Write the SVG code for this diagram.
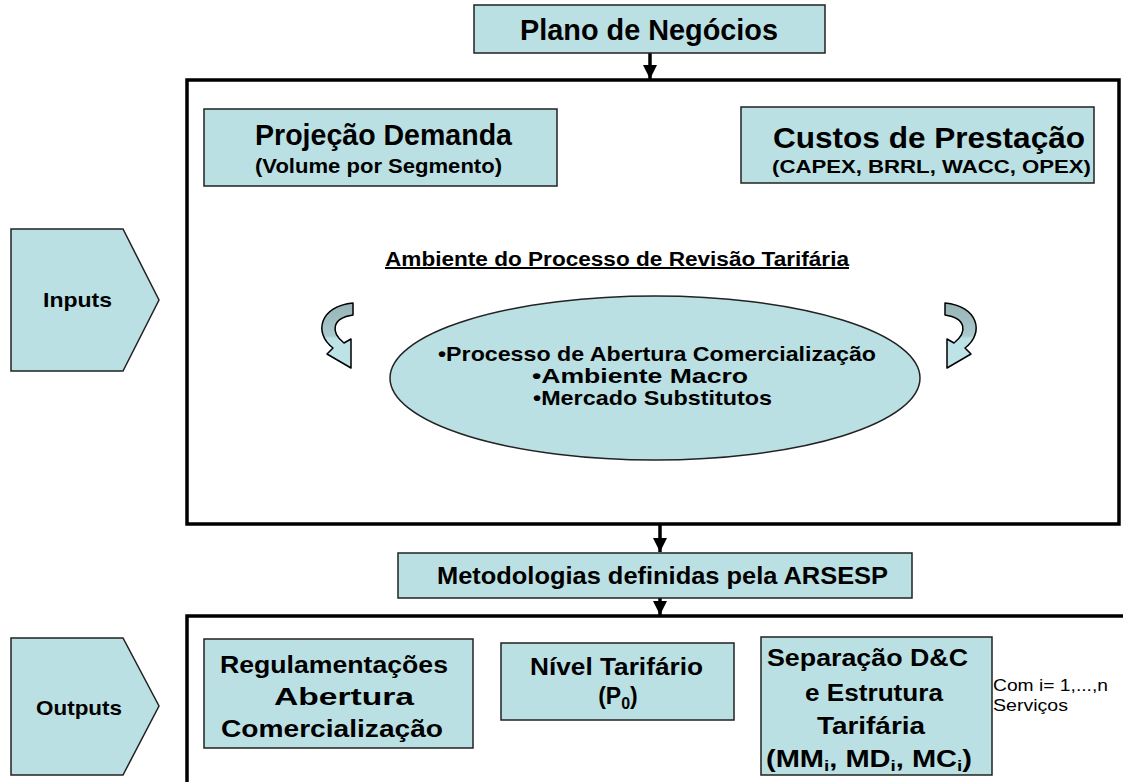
<svg xmlns="http://www.w3.org/2000/svg" width="1123" height="782" viewBox="0 0 1123 782">
<style>
.box{fill:#BBE0E3;stroke:#222;stroke-width:1.5}
.frame{fill:none;stroke:#000;stroke-width:3.5}
.t{font-family:"Liberation Sans",Arial,sans-serif;font-weight:bold;fill:#000;text-anchor:middle}
.r{font-family:"Liberation Sans",Arial,sans-serif;fill:#000}
.conn{stroke:#000;stroke-width:3.5;fill:none}
</style>
<defs>
<marker id="ah" markerWidth="4" markerHeight="4" refX="4" refY="2" orient="auto" markerUnits="strokeWidth">
<path d="M0,0 L4,2 L0,4 Z" fill="#000"/>
</marker>
<linearGradient id="cg" x1="0" y1="0" x2="0" y2="1">
<stop offset="0" stop-color="#97B3B6"/>
<stop offset="0.5" stop-color="#A9C9CC"/>
<stop offset="0.55" stop-color="#BEE3E6"/>
<stop offset="1" stop-color="#BEE3E6"/>
</linearGradient>
<path id="curv" d="M353,303 C320,306 313,333 333,348 L327,354 L351,368 L351,339 L344,343 C330,332 332,318 353,315 Z" fill="url(#cg)" stroke="#000" stroke-width="1.5" stroke-linejoin="round"/>
</defs>

<g id="frames">
<rect class="frame" x="187" y="80" width="932" height="444"/>
<path class="frame" d="M187,790 V616 H1130"/>
</g>

<g id="connectors">
<line class="conn" x1="650" y1="53" x2="650" y2="79" marker-end="url(#ah)"/>
<line class="conn" x1="660" y1="524" x2="660" y2="552" marker-end="url(#ah)"/>
<line class="conn" x1="660" y1="598" x2="660" y2="615" marker-end="url(#ah)"/>
</g>

<g id="plano">
<rect class="box" x="474" y="5" width="351" height="48"/>
<text class="t" x="649" y="40" font-size="29" textLength="258" lengthAdjust="spacingAndGlyphs">Plano de Negócios</text>
</g>

<g id="projecao">
<rect class="box" x="204" y="109" width="353" height="77"/>
<text class="t" x="383.5" y="145" font-size="29" textLength="257" lengthAdjust="spacingAndGlyphs">Projeção Demanda</text>
<text class="t" x="378.5" y="173" font-size="21" textLength="247" lengthAdjust="spacingAndGlyphs">(Volume por Segmento)</text>
</g>

<g id="custos">
<rect class="box" x="741" y="107" width="353" height="76"/>
<text class="t" x="929" y="148" font-size="29" textLength="312" lengthAdjust="spacingAndGlyphs">Custos de Prestação</text>
<text class="t" x="931.5" y="173" font-size="19" textLength="319" lengthAdjust="spacingAndGlyphs">(CAPEX, BRRL, WACC, OPEX)</text>
</g>

<g id="inputs">
<polygon class="box" points="11,229 123,229 159,300 123,371 11,371"/>
<text class="t" x="77.5" y="307" font-size="21" textLength="69" lengthAdjust="spacingAndGlyphs">Inputs</text>
</g>

<g id="ambiente-titulo">
<text class="t" x="617" y="266" font-size="20" text-decoration="underline" textLength="464" lengthAdjust="spacingAndGlyphs">Ambiente do Processo de Revisão Tarifária</text>
</g>

<g id="setas-curvas">
<use href="#curv"/>
<use href="#curv" transform="translate(1298,0) scale(-1,1)"/>
</g>

<g id="ambiente">
<ellipse class="box" cx="655" cy="378" rx="265" ry="82"/>
<text class="t" x="657" y="361" font-size="21" textLength="438" lengthAdjust="spacingAndGlyphs">•Processo de Abertura Comercialização</text>
<text class="t" x="640" y="383" font-size="21" textLength="216" lengthAdjust="spacingAndGlyphs">•Ambiente Macro</text>
<text class="t" x="652.5" y="405" font-size="21" textLength="239" lengthAdjust="spacingAndGlyphs">•Mercado Substitutos</text>
</g>

<g id="metodologias">
<rect class="box" x="398" y="553" width="514" height="45"/>
<text class="t" x="662.5" y="584" font-size="23" textLength="451" lengthAdjust="spacingAndGlyphs">Metodologias definidas pela ARSESP</text>
</g>

<g id="outputs">
<polygon class="box" points="11,638 123,638 159,706 123,775 11,775"/>
<text class="t" x="79" y="715" font-size="21" textLength="86" lengthAdjust="spacingAndGlyphs">Outputs</text>
</g>

<g id="regulamentacoes">
<rect class="box" x="204" y="639" width="269" height="109"/>
<text class="t" x="334" y="673" font-size="23" textLength="228" lengthAdjust="spacingAndGlyphs">Regulamentações</text>
<text class="t" x="344" y="705" font-size="23" textLength="140" lengthAdjust="spacingAndGlyphs">Abertura</text>
<text class="t" x="332" y="737" font-size="23" textLength="222" lengthAdjust="spacingAndGlyphs">Comercialização</text>
</g>

<g id="nivel">
<rect class="box" x="501" y="643" width="233" height="77"/>
<text class="t" x="616.5" y="675" font-size="23" textLength="173" lengthAdjust="spacingAndGlyphs">Nível Tarifário</text>
<text class="t" x="618" y="704" font-size="23">(P<tspan font-size="16" dy="5">0</tspan><tspan dy="-5">)</tspan></text>
</g>

<g id="separacao">
<rect class="box" x="761" y="637" width="231" height="138"/>
<text class="t" x="867.5" y="666" font-size="23" textLength="201" lengthAdjust="spacingAndGlyphs">Separação D&amp;C</text>
<text class="t" x="874" y="701" font-size="23" textLength="138" lengthAdjust="spacingAndGlyphs">e Estrutura</text>
<text class="t" x="871" y="734" font-size="23" textLength="108" lengthAdjust="spacingAndGlyphs">Tarifária</text>
<text class="t" x="869" y="767" font-size="23" textLength="206" lengthAdjust="spacingAndGlyphs">(MM<tspan font-size="15" dy="4">i</tspan><tspan dy="-4">, MD</tspan><tspan font-size="15" dy="4">i</tspan><tspan dy="-4">, MC</tspan><tspan font-size="15" dy="4">i</tspan><tspan dy="-4">)</tspan></text>
</g>

<g id="nota">
<text class="r" x="993" y="691" font-size="17" textLength="115" lengthAdjust="spacingAndGlyphs">Com i= 1,...,n</text>
<text class="r" x="993" y="711" font-size="17" textLength="75" lengthAdjust="spacingAndGlyphs">Serviços</text>
</g>
</svg>
